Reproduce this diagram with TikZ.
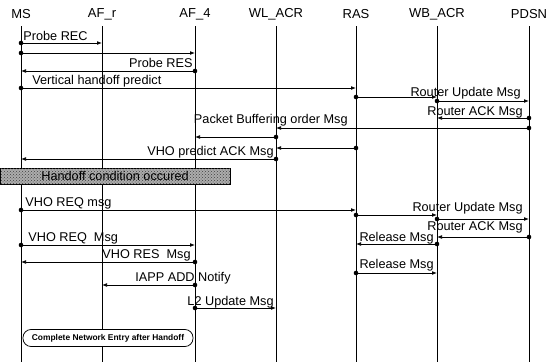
\documentclass[tikz,border=0pt]{standalone}
\usepackage{fontspec}
\setmainfont{Liberation Sans}
\usetikzlibrary{arrows.meta,patterns}

\begin{document}
\begin{tikzpicture}[x=1pt,y=-1pt,line width=.75pt,>={Latex[length=5pt,width=3.8pt]},
  lbl/.style={inner sep=0pt,font=\fontsize{12.7}{14}\selectfont},
  head/.style={font=\fontsize{13}{14}\selectfont}]
\useasboundingbox (0,0) rectangle (549,362);
% lifelines
\foreach \n/\x/\t in {MS/21/MS,AFr/102/AF\_r,AF4/195/AF\_4,WL/276/WL\_ACR,RAS/356/RAS,WB/437/WB\_ACR,PDSN/529/PDSN}{
\node[head] (\n) at (\x,14) {\t};
\draw (\n |- 0,26) -- (\n |- 0,362);}
% messages: from/to/y
\foreach \a/\b/\y in {MS/AFr/43,MS/AF4/53,AF4/MS/71,MS/RAS/88,RAS/WB/97,WB/PDSN/101,
  PDSN/WB/118,PDSN/WL/128,WL/AF4/137,RAS/WL/148,WL/MS/159,
  MS/RAS/210,RAS/WB/215,WB/PDSN/219,PDSN/WB/237,WB/RAS/244,MS/AF4/245,
  AF4/MS/262,RAS/WB/273,AF4/AFr/285,AF4/WL/308}{
\fill (\a |- 0,\y) circle (2.3);
\draw[->] (\a |- 0,\y) -- (\b |- 0,\y);}
% labels
\foreach \nm/\x/\y/\s/\t in {probeREC/23/36/west/Probe REC,probeRES/193/63/east/Probe RES,
  vhp/32/81/west/Vertical handoff predict,rupd/521/93/east/Router Update Msg,
  rack/523/112/east/Router ACK Msg,pbuf/348/120/east/Packet Buffering order Msg,
  vack/274/152/east/VHO predict ACK Msg,vreq/25/203/west/VHO REQ msg,
  rupdb/523/208/east/Router Update Msg,rackb/523/227/east/Router ACK Msg,
  rel/434/238/east/Release Msg,vreqb/28/238/west/VHO REQ\ \ Msg,
  vres/191/255/east/VHO RES\ \ Msg,relb/434/265/east/Release Msg,
  iapp/231/278/east/IAPP ADD Notify,ltwo/274/302/east/L2 Update Msg}{
\node[lbl,anchor=\s] (\nm) at (\x,\y) {\t};}
% boxes
\node[draw,fill=gray!65,postaction={pattern=crosshatch dots,pattern color=black!75},
  minimum width=230pt,minimum height=16pt,inner sep=0pt,lbl] (hand) at (115,176) {Handoff condition occured};
\node[draw,fill=white,rounded corners=8pt,minimum width=170pt,minimum height=17pt,inner sep=0pt,
  font=\bfseries\fontsize{8.4}{10}\selectfont] (cne) at (108,338) {Complete Network Entry after Handoff};
\end{tikzpicture}
\end{document}
